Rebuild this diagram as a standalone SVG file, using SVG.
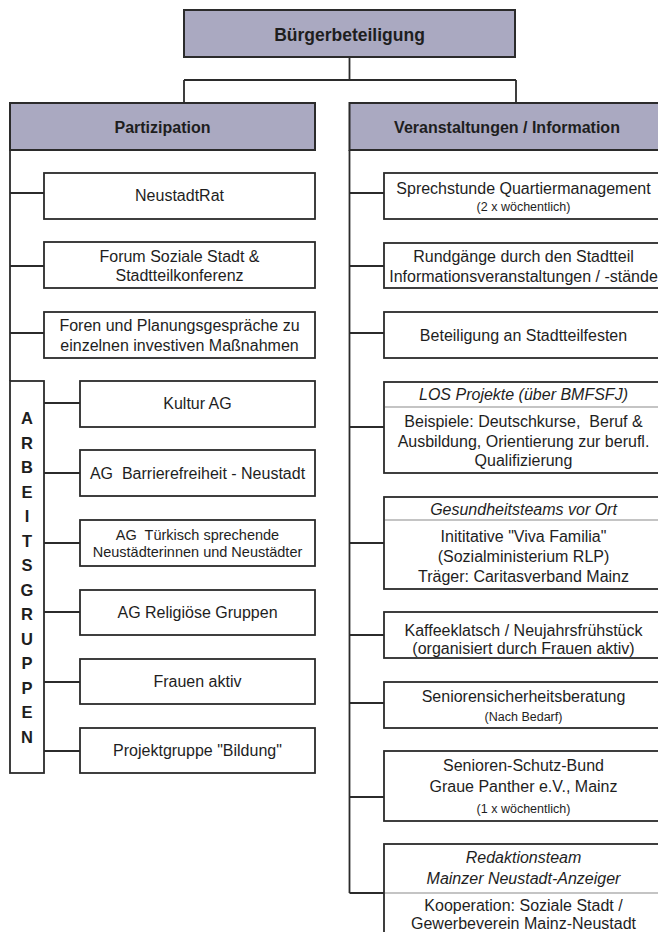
<svg xmlns="http://www.w3.org/2000/svg" width="658" height="932" viewBox="0 0 658 932">
<style>
.bg{fill:#ffffff}
.box{fill:#ffffff;stroke:#2b2b2b;stroke-width:1.8}
.hdr{fill:#aaa9c1;stroke:#2b2b2b;stroke-width:2}
.con{stroke:#2b2b2b;stroke-width:1.8;fill:none}
.dv{stroke:#8a8a8a;stroke-width:1.2}
text{font-family:"Liberation Sans",Arial,Helvetica,sans-serif;font-size:16px;fill:#1e1e1e;text-anchor:middle}
.b{font-weight:bold;font-size:16px}
.tb{font-weight:bold;font-size:17.5px}
.s{font-size:12.5px}
.m{font-size:14.5px}
.i{font-style:italic}
.v{font-weight:bold;font-size:16.5px}
</style>
<rect class="bg" x="0" y="0" width="658" height="932"/>
<g id="connectors">
<path class="con" d="M349.5 57 V80 M184 80 H516 M184 80 V103 M516 80 V103"/>
<path class="con" d="M10 150 V381 M10 193 H44 M10 266 H44 M10 333 H44"/>
<path class="con" d="M44 403 H80 M44 473 H80 M44 543 H80 M44 612 H80 M44 682 H80 M44 751 H80"/>
<path class="con" d="M349.5 150 V893 M349.5 193 H384 M349.5 266 H384 M349.5 333 H384 M349.5 427 H384 M349.5 543 H384 M349.5 635 H384 M349.5 703 H384 M349.5 797 H384 M349.5 893 H384"/>
</g>
<g id="n-root"><rect class="hdr" x="184" y="10" width="331" height="47"/><text class="tb" x="349.5" y="40.5">Bürgerbeteiligung</text></g>
<g id="n-partizipation"><rect class="hdr" x="10" y="103" width="305" height="47"/><text class="b" x="162.5" y="132.5">Partizipation</text></g>
<g id="n-veranstaltungen"><rect class="hdr" x="349.5" y="103" width="316" height="47"/><text class="b" x="507" y="132.5">Veranstaltungen / Information</text></g>

<g id="n-neustadtrat"><rect class="box" x="44" y="173" width="271" height="46"/><text x="179.5" y="201">NeustadtRat</text></g>
<g id="n-forum"><rect class="box" x="44" y="242" width="271" height="46"/><text x="179.5" y="261.5">Forum Soziale Stadt &amp;</text><text x="179.5" y="281">Stadtteilkonferenz</text></g>
<g id="n-foren"><rect class="box" x="44" y="312" width="271" height="46"/><text x="179.5" y="330.5">Foren und Planungsgespräche zu</text><text x="179.5" y="350.5">einzelnen investiven Maßnahmen</text></g>

<g id="n-arbeitsgruppen"><rect class="box" x="10" y="381" width="34" height="392"/>
<text class="v" x="27" y="424">A</text><text class="v" x="27" y="448.5">R</text><text class="v" x="27" y="473">B</text><text class="v" x="27" y="497.5">E</text><text class="v" x="27" y="522">I</text><text class="v" x="27" y="546.5">T</text><text class="v" x="27" y="571">S</text><text class="v" x="27" y="595.5">G</text><text class="v" x="27" y="620">R</text><text class="v" x="27" y="644.5">U</text><text class="v" x="27" y="669">P</text><text class="v" x="27" y="693.5">P</text><text class="v" x="27" y="718">E</text><text class="v" x="27" y="742.5">N</text></g>

<g id="n-kultur"><rect class="box" x="80" y="381" width="235" height="46"/><text x="197.5" y="409">Kultur AG</text></g>
<g id="n-barriere"><rect class="box" x="80" y="450" width="235" height="46"/><text x="197.5" y="479">AG&#160; Barrierefreiheit - Neustadt</text></g>
<g id="n-tuerkisch"><rect class="box" x="80" y="520" width="235" height="46"/><text class="m" x="197.5" y="540">AG&#160; Türkisch sprechende</text><text class="m" x="197.5" y="557">Neustädterinnen und Neustädter</text></g>
<g id="n-religioese"><rect class="box" x="80" y="590" width="235" height="45"/><text x="197.5" y="617.5">AG Religiöse Gruppen</text></g>
<g id="n-frauen"><rect class="box" x="80" y="659" width="235" height="45"/><text x="197.5" y="687">Frauen aktiv</text></g>
<g id="n-projekt"><rect class="box" x="80" y="728" width="235" height="45"/><text x="197.5" y="756">Projektgruppe "Bildung"</text></g>

<g id="n-sprechstunde"><rect class="box" x="384" y="173" width="280" height="46"/><text x="523.5" y="193.5">Sprechstunde Quartiermanagement</text><text class="s" x="523.5" y="210.5">(2 x wöchentlich)</text></g>
<g id="n-rundgaenge"><rect class="box" x="384" y="243" width="280" height="45"/><text x="523.5" y="262">Rundgänge durch den Stadtteil</text><text x="523.5" y="282">Informationsveranstaltungen / -stände</text></g>
<g id="n-feste"><rect class="box" x="384" y="312" width="280" height="46"/><text x="523.5" y="340.5">Beteiligung an Stadtteilfesten</text></g>
<g id="n-los"><rect class="box" x="384" y="382" width="280" height="91"/><line class="dv" x1="385" y1="407" x2="664" y2="407"/><text class="i" x="523.5" y="399.5">LOS Projekte (über BMFSFJ)</text><text x="523.5" y="427">Beispiele: Deutschkurse,&#160; Beruf &amp;</text><text x="523.5" y="447">Ausbildung, Orientierung zur berufl.</text><text x="523.5" y="466">Qualifizierung</text></g>
<g id="n-gesundheit"><rect class="box" x="384" y="497" width="280" height="92"/><line class="dv" x1="385" y1="520" x2="664" y2="520"/><text class="i" x="523.5" y="515">Gesundheitsteams vor Ort</text><text x="523.5" y="542">Inititative "Viva Familia"</text><text x="523.5" y="562">(Sozialministerium RLP)</text><text x="523.5" y="582">Träger: Caritasverband Mainz</text></g>
<g id="n-kaffee"><rect class="box" x="384" y="612" width="280" height="46"/><text x="523.5" y="635.5">Kaffeeklatsch / Neujahrsfrühstück</text><text x="523.5" y="654">(organisiert durch Frauen aktiv)</text></g>
<g id="n-sicherheit"><rect class="box" x="384" y="682" width="280" height="46"/><text x="523.5" y="701.5">Seniorensicherheitsberatung</text><text class="s" x="523.5" y="721">(Nach Bedarf)</text></g>
<g id="n-schutzbund"><rect class="box" x="384" y="751" width="280" height="70"/><text x="523.5" y="770.5">Senioren-Schutz-Bund</text><text x="523.5" y="792">Graue Panther e.V., Mainz</text><text class="s" x="523.5" y="812.5">(1 x wöchentlich)</text></g>
<g id="n-redaktion"><rect class="box" x="384" y="844" width="280" height="100"/><line class="dv" x1="385" y1="893" x2="664" y2="893"/><text class="i" x="523.5" y="863">Redaktionsteam</text><text class="i" x="523.5" y="884">Mainzer Neustadt-Anzeiger</text><text x="523.5" y="911">Kooperation: Soziale Stadt /</text><text x="523.5" y="929">Gewerbeverein Mainz-Neustadt</text></g>
</svg>
